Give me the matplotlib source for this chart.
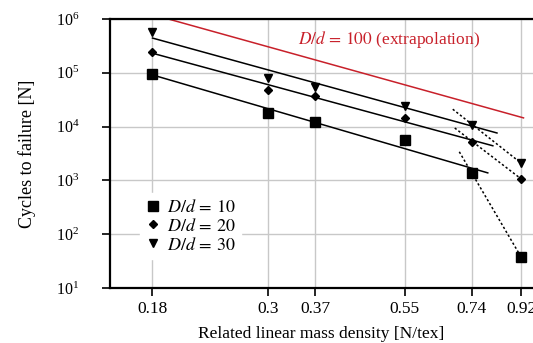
import matplotlib
matplotlib.use("Agg")
import matplotlib.pyplot as plt
from matplotlib.ticker import FixedLocator, NullLocator, LogLocator, LogFormatterMathtext

plt.rcParams['font.family'] = ['Liberation Serif', 'DejaVu Serif']
plt.rcParams['mathtext.fontset'] = 'stix'

# data
x_vals = [0.18, 0.3, 0.37, 0.55, 0.74, 0.92]
x_tick_labels = ['0.18', '0.3', '0.37', '0.55', '0.74', '0.92']
n_d10 = [9.5e4, 1.8e4, 1.2e4, 5.6e3, 1.4e3, 38]
n_d20 = [2.4e5, 4.8e4, 3.7e4, 1.45e4, 5.1e3, 1.07e3]
n_d30 = [5.7e5, 8.0e4, 5.5e4, 2.4e4, 1.07e4, 2.1e3]

# fitted (solid) lines: endpoints
fit_x_d10 = [0.18, 0.794]
fit_y_d10 = [9.1e4, 1.38e3]
fit_x_d20 = [0.18, 0.812]
fit_y_d20 = [2.3e5, 4.4e3]
fit_x_d30 = [0.18, 0.827]
fit_y_d30 = [4.4e5, 7.6e3]

# dotted lines (second regime)
dot_x_d10 = [0.70, 0.92]
dot_y_d10 = [3.4e3, 38]
dot_x_d20 = [0.686, 0.92]
dot_y_d20 = [9.4e3, 1.07e3]
dot_x_d30 = [0.68, 0.92]
dot_y_d30 = [2.1e4, 2.1e3]

# extrapolation D/d = 100
extra_x = [0.18, 0.93]
extra_y = [1.2e6, 1.45e4]

red = '#c8202a'

fig = plt.figure(figsize=(5.33, 3.43), dpi=100)
ax = fig.add_axes([0.206, 0.160, 0.794, 0.785])

ax.set_xscale('log')
ax.set_yscale('log')
ax.set_xlim(0.149, 0.97)
ax.set_ylim(10, 1e6)

ax.grid(True, which='major', color='#c8c8c8', lw=1.0, zorder=0)
ax.set_axisbelow(True)

ax.plot(extra_x, extra_y, color=red, lw=1.1, zorder=2)
for fx, fy in [(fit_x_d10, fit_y_d10), (fit_x_d20, fit_y_d20), (fit_x_d30, fit_y_d30)]:
    ax.plot(fx, fy, color='black', lw=1.1, zorder=2)
for dx, dy in [(dot_x_d10, dot_y_d10), (dot_x_d20, dot_y_d20), (dot_x_d30, dot_y_d30)]:
    ax.plot(dx, dy, color='black', lw=1.1, ls=(0, (1.5, 1.5)), zorder=2)

ax.plot(x_vals, n_d10, ls='none', marker='s', ms=6.5, color='black', label=r'$D/d\,=\,10$', zorder=3)
ax.plot(x_vals, n_d20, ls='none', marker='D', ms=4, color='black', label=r'$D/d\,=\,20$', zorder=3)
ax.plot(x_vals, n_d30, ls='none', marker='v', ms=5.5, color='black', label=r'$D/d\,=\,30$', zorder=3)

ax.text(0.444, 0.922, r'$D/d\,=\,100$ (extrapolation)', transform=ax.transAxes,
        color=red, fontsize=12.5, ha='left', va='center')

ax.xaxis.set_major_locator(FixedLocator(x_vals))
ax.set_xticklabels(x_tick_labels)
ax.xaxis.set_minor_locator(NullLocator())
ax.yaxis.set_major_locator(LogLocator(base=10, numticks=10))
ax.yaxis.set_major_formatter(LogFormatterMathtext())
ax.yaxis.set_minor_locator(NullLocator())

ax.tick_params(axis='both', direction='out', length=6, width=1.2, colors='black')
ax.tick_params(axis='x', labelsize=12.5)
ax.tick_params(axis='y', labelsize=11.5, pad=16)
for s in ['left', 'bottom', 'top']:
    ax.spines[s].set_linewidth(1.6)
ax.spines['right'].set_visible(False)

ax.set_xlabel('Related linear mass density [N/tex]', fontsize=12.5, labelpad=6)
ax.set_ylabel('Cycles to failure [N]', fontsize=13, labelpad=14)

leg = ax.legend(loc='upper left', bbox_to_anchor=(0.05, 0.385), frameon=True, fontsize=13,
                handlelength=0.8, handletextpad=0.4, labelspacing=0.1, borderpad=0.3,
                fancybox=False)
leg.get_frame().set_edgecolor('white')
leg.get_frame().set_facecolor('white')
leg.get_frame().set_alpha(1)

fig.savefig('out.png', dpi=100)
